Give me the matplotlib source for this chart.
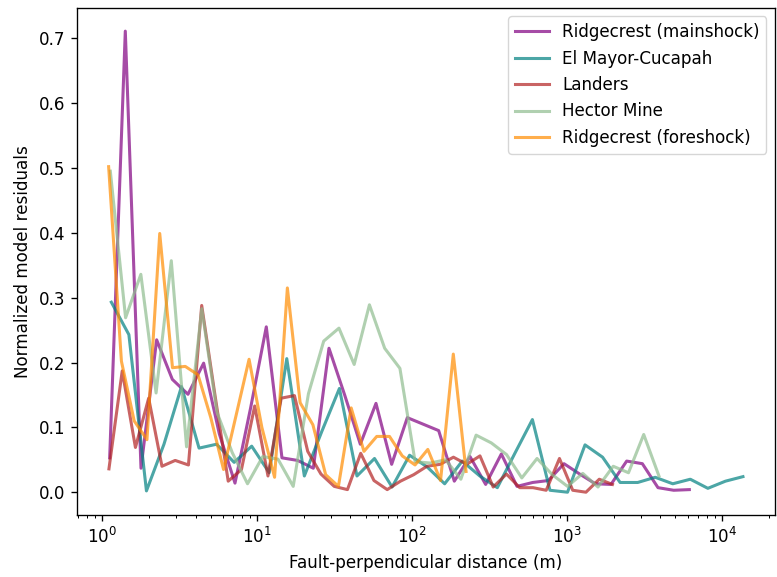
import numpy as np
import matplotlib
matplotlib.use("Agg")
import matplotlib.pyplot as plt

# Fault-perpendicular distance bins (m) and normalized residuals per event
dist_ridgecrest_main = [1.117, 1.409, 1.779, 2.245, 2.834, 3.576, 4.513, 5.696, 7.19, 9.07,
                        11.45, 14.45, 18.24, 23.02, 29.06, 36.68, 46.29, 58.43, 73.75, 93.07,
                        117.5, 148.3, 187.1, 236.2, 298.1, 376.3, 474.9, 599.4, 756.5, 954.6,
                        1205, 1521, 1919, 2423, 3058, 3859, 4871, 6148]
res_ridgecrest_main = [0.053, 0.711, 0.037, 0.235, 0.174, 0.151, 0.199, 0.09, 0.014, 0.13,
                       0.255, 0.053, 0.049, 0.037, 0.222, 0.15, 0.074, 0.137, 0.043, 0.115,
                       0.105, 0.095, 0.017, 0.055, 0.012, 0.059, 0.009, 0.015, 0.018, 0.044,
                       0.028, 0.013, 0.012, 0.048, 0.044, 0.007, 0.003, 0.004]

dist_emc = [1.145, 1.486, 1.929, 2.503, 3.248, 4.215, 5.471, 7.101, 9.215, 11.96,
            15.52, 20.15, 26.15, 33.93, 44.04, 57.16, 74.19, 96.27, 124.9, 162.1,
            210.5, 273.2, 354.5, 460.1, 597.0, 775.0, 1006, 1305, 1694, 2198,
            2854, 3703, 4806, 6237, 8095, 10508, 13636]
res_emc = [0.293, 0.243, 0.002, 0.074, 0.163, 0.068, 0.074, 0.046, 0.071, 0.03,
           0.206, 0.025, 0.094, 0.16, 0.025, 0.052, 0.008, 0.057, 0.039, 0.013,
           0.048, 0.025, 0.007, 0.06, 0.112, 0.003, 0.0, 0.073, 0.054, 0.015,
           0.015, 0.023, 0.013, 0.02, 0.006, 0.017, 0.024]

dist_landers = [1.105, 1.346, 1.638, 1.994, 2.429, 2.957, 3.601, 4.385, 5.339, 6.501,
                7.915, 9.638, 11.74, 14.29, 17.40, 21.19, 25.79, 31.41, 38.24, 46.56,
                56.69, 69.03, 84.05, 102.3, 124.6, 151.7, 184.7, 224.9, 273.9, 333.4,
                406.0, 494.4, 602.0, 733.0, 892.5, 1087, 1323, 1612, 1962]
res_landers = [0.036, 0.187, 0.069, 0.145, 0.04, 0.049, 0.042, 0.288, 0.15, 0.017,
               0.035, 0.133, 0.025, 0.145, 0.149, 0.063, 0.028, 0.009, 0.004, 0.06,
               0.018, 0.004, 0.017, 0.027, 0.04, 0.043, 0.054, 0.043, 0.056, 0.008,
               0.028, 0.007, 0.007, 0.003, 0.052, 0.003, 0.0, 0.02, 0.012]

dist_hector = [1.128, 1.415, 1.775, 2.226, 2.791, 3.501, 4.390, 5.506, 6.905, 8.661,
               10.86, 13.62, 17.08, 21.42, 26.87, 33.70, 42.26, 53.00, 66.47, 83.37,
               104.5, 131.1, 164.4, 206.2, 258.6, 324.3, 406.7, 510.1, 639.7, 802.3,
               1006, 1262, 1582, 1984, 2489, 3121, 3914]
res_hector = [0.495, 0.269, 0.336, 0.153, 0.357, 0.07, 0.283, 0.123, 0.061, 0.013,
              0.055, 0.051, 0.009, 0.152, 0.233, 0.253, 0.197, 0.289, 0.222, 0.191,
              0.047, 0.045, 0.05, 0.02, 0.088, 0.076, 0.058, 0.022, 0.052, 0.027,
              0.009, 0.029, 0.008, 0.04, 0.03, 0.089, 0.025]

dist_ridgecrest_fore = [1.100, 1.330, 1.608, 1.944, 2.350, 2.841, 3.434, 4.151, 5.018, 6.067,
                        7.334, 8.864, 10.72, 12.95, 15.66, 18.93, 22.88, 27.66, 33.44, 40.42,
                        48.87, 59.08, 71.42, 86.32, 104.4, 126.2, 152.5, 184.3, 222.8]
res_ridgecrest_fore = [0.502, 0.202, 0.11, 0.081, 0.399, 0.192, 0.194, 0.181, 0.115, 0.035,
                       0.12, 0.205, 0.10, 0.023, 0.315, 0.138, 0.104, 0.027, 0.009, 0.13,
                       0.063, 0.086, 0.086, 0.056, 0.042, 0.066, 0.018, 0.213, 0.032]

events = [
    ("Ridgecrest (mainshock)", dist_ridgecrest_main, res_ridgecrest_main, "purple"),
    ("El Mayor-Cucapah", dist_emc, res_emc, "teal"),
    ("Landers", dist_landers, res_landers, "firebrick"),
    ("Hector Mine", dist_hector, res_hector, "darkseagreen"),
    ("Ridgecrest (foreshock)", dist_ridgecrest_fore, res_ridgecrest_fore, "darkorange"),
]

# Slightly enlarged default styling
s = 1.21
plt.rcParams.update({
    "font.size": 10 * s,
    "axes.linewidth": 0.8 * s,
    "xtick.major.size": 3.5 * s, "ytick.major.size": 3.5 * s,
    "xtick.minor.size": 2.0 * s, "ytick.minor.size": 2.0 * s,
    "xtick.major.width": 0.8 * s, "ytick.major.width": 0.8 * s,
    "xtick.minor.width": 0.6 * s, "ytick.minor.width": 0.6 * s,
    "xtick.major.pad": 3.5 * s, "ytick.major.pad": 3.5 * s,
    "axes.labelpad": 4.0 * s,
})

fig = plt.figure(figsize=(7.77, 5.77), dpi=100)
ax = fig.add_axes([0.099, 0.107, 0.898, 0.879])

for name, d, r, c in events:
    ax.plot(d, r, color=c, alpha=0.7, lw=2.2, label=name)

ax.set_xscale("log")
ax.set_xlabel("Fault-perpendicular distance (m)")
ax.set_ylabel("Normalized model residuals")
ax.legend(loc="upper right")

fig.savefig("out.png", dpi=100)
